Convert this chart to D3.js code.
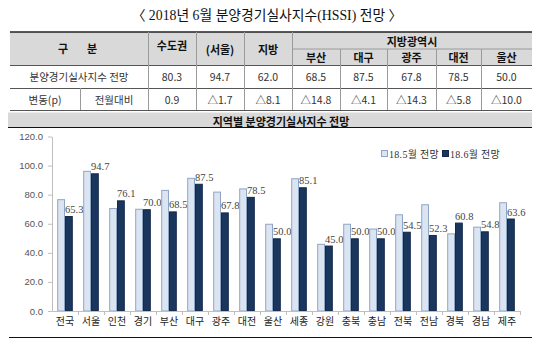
<!DOCTYPE html>
<html><head><meta charset="utf-8">
<script src="https://cdn.jsdelivr.net/npm/d3@7/dist/d3.min.js"></script>
<style>
html,body{margin:0;padding:0;background:#fff;}
svg{display:block;}
</style></head>
<body>
<svg id="c" width="540" height="344"></svg>
<script>
// ---------- data ----------
const title = "〈 2018년 6월 분양경기실사지수(HSSI) 전망 〉";
const chartTitle = "지역별 분양경기실사지수 전망";
const tableCols = ["수도권", "(서울)", "지방"];
const metroCols = ["부산", "대구", "광주", "대전", "울산"];
const tableForecast = ["80.3", "94.7", "62.0", "68.5", "87.5", "67.8", "78.5", "50.0"];
const tableChange = ["0.9", "△1.7", "△8.1", "△14.8", "△4.1", "△14.3", "△5.8", "△10.0"];
const categories = ["전국","서울","인천","경기","부산","대구","광주","대전","울산","세종","강원","충북","충남","전북","전남","경북","경남","제주"];
const seriesNames = ["18.5월 전망", "18.6월 전망"];
const may = [76.9, 96.4, 70.8, 70.3, 83.3, 91.6, 82.1, 84.3, 60.0, 91.3, 46.2, 60.0, 56.7, 66.5, 73.4, 53.4, 58.0, 74.8];
const june = [65.3, 94.7, 76.1, 70.0, 68.5, 87.5, 67.8, 78.5, 50.0, 85.1, 45.0, 50.0, 50.0, 54.5, 52.3, 60.8, 54.8, 63.6];
const yTicks = [0, 20, 40, 60, 80, 100, 120];

// ---------- drawing ----------
const svg = d3.select("#c");
const sans = "'Noto Sans CJK KR','Noto Sans',sans-serif";
const serif = "'Liberation Serif','Noto Sans CJK KR',serif";

// title
svg.append("text").attr("x", 267).attr("y", 20).attr("text-anchor", "middle")
  .attr("font-family", serif).attr("font-size", 13.8).attr("fill", "#111").text(title);

// table
const L = 10, R = 532;
const colX = [10, 148, 196, 244, 292, 340, 387, 436, 481, 532];
const rowY = [32, 49, 65, 88, 110];
const g = svg.append("g");
g.append("rect").attr("x", L).attr("y", rowY[0]).attr("width", R - L).attr("height", rowY[2] - rowY[0]).attr("fill", "#d9d9d9");
const lineC = "#9a9a9a";
g.append("line").attr("x1", L).attr("x2", R).attr("y1", rowY[0]).attr("y2", rowY[0]).attr("stroke", "#222").attr("stroke-width", 1.5);
g.append("line").attr("x1", colX[4]).attr("x2", R).attr("y1", rowY[1]).attr("y2", rowY[1]).attr("stroke", lineC);
[rowY[2], rowY[3]].forEach(yy => g.append("line").attr("x1", L).attr("x2", R).attr("y1", yy + .5).attr("y2", yy + .5).attr("stroke", "#555"));
g.append("line").attr("x1", L).attr("x2", R).attr("y1", rowY[4] + .5).attr("y2", rowY[4] + .5).attr("stroke", "#555");
colX.slice(1, 9).forEach((x, i) => {
  const top = (i >= 4) ? rowY[1] : rowY[0];
  g.append("line").attr("x1", x + .5).attr("x2", x + .5).attr("y1", top).attr("y2", rowY[4]).attr("stroke", lineC);
});
g.append("line").attr("x1", 80.5).attr("x2", 80.5).attr("y1", rowY[3]).attr("y2", rowY[4]).attr("stroke", lineC);

function cell(x, y, t, bold, size) {
  g.append("text").attr("x", x).attr("y", y).attr("text-anchor", "middle").attr("dominant-baseline", "central")
    .attr("font-family", sans).attr("font-size", size || 10.5).attr("font-weight", bold ? "bold" : "normal")
    .attr("fill", bold ? "#111" : "#333").text(t);
}
cell(63, 48, "구", true, 11);
cell(92, 48, "분", true, 11);
tableCols.forEach((t, i) => cell((colX[i + 1] + colX[i + 2]) / 2, i === 0 ? 45 : 49, t, true, 11));
cell((colX[4] + R) / 2, 40.5, "지방광역시", true, 11);
metroCols.forEach((t, i) => cell((colX[i + 4] + colX[i + 5]) / 2, 57, t, true, 11));
cell(79, 76.5, "분양경기실사지수 전망", false, 10.5);
tableForecast.forEach((t, i) => cell((colX[i + 1] + colX[i + 2]) / 2, 76.5, t, false, 10.5));
cell(45, 99, "변동(p)", false, 10.5);
cell(114, 99, "전월대비", false, 10.5);
tableChange.forEach((t, i) => cell((colX[i + 1] + colX[i + 2]) / 2, 99, t, false, 10.5));

// chart title band
svg.append("rect").attr("x", 8).attr("y", 112.5).attr("width", 524).attr("height", 14.5).attr("fill", "#d9d9d9");
svg.append("line").attr("x1", 8).attr("x2", 532).attr("y1", 127.5).attr("y2", 127.5).attr("stroke", "#111").attr("stroke-width", 1.2);
svg.append("text").attr("x", 281).attr("y", 120.5).attr("text-anchor", "middle").attr("dominant-baseline", "central")
  .attr("font-family", sans).attr("font-size", 11).attr("font-weight", "bold").attr("fill", "#111").text(chartTitle);

// chart
const x0 = d3.scaleBand().domain(categories).range([52, 520]).paddingInner(0.4).paddingOuter(0.2);
const x1 = d3.scaleBand().domain(seriesNames).range([0, x0.bandwidth()]);
const y = d3.scaleLinear().domain([0, 120]).range([311, 136.5]);

const yAxis = svg.append("g").attr("transform", "translate(52,0)")
  .call(d3.axisLeft(y).tickValues(yTicks).tickFormat(d3.format(".1f")).tickSize(4).tickSizeOuter(0));
yAxis.select(".domain").attr("stroke", "#bfbfbf");
yAxis.selectAll(".tick line").attr("stroke", "#bfbfbf");
yAxis.selectAll("text").attr("font-family", "'Liberation Sans','Noto Sans',sans-serif").attr("font-size", 9.5).attr("fill", "#555").attr("x", -9);

const colors = ["#dbe5f1", "#1b365d"];
const strokes = ["#8fa5c4", "#14294a"];
const seriesVals = [may, june];
categories.forEach((c, i) => {
  seriesNames.forEach((s, k) => {
    const v = seriesVals[k][i];
    svg.append("rect").attr("x", x0(c) + x1(s) + 0.5).attr("y", y(v) + 0.5)
      .attr("width", x1.bandwidth() - 1).attr("height", y(0) - y(v) - 0.5)
      .attr("fill", colors[k]).attr("stroke", strokes[k]).attr("stroke-width", 1);
  });
  svg.append("text").attr("x", x0(c) + x1(seriesNames[1])).attr("y", y(june[i]) - 3)
    .attr("font-family", serif).attr("font-size", 10.5).attr("fill", "#444").text(june[i].toFixed(1));
});

const xAxis = svg.append("g").attr("transform", "translate(0,311)")
  .call(d3.axisBottom(x0).tickSize(0).tickSizeOuter(0));
xAxis.select(".domain").attr("stroke", "#bfbfbf");
xAxis.selectAll("text").attr("font-family", sans).attr("font-size", 10).attr("fill", "#222").attr("dy", "1.1em");
svg.append("g").selectAll("line").data(categories.slice(1).concat(["_end"])).join("line")
  .attr("x1", (d, i) => 52 + x0.step() * (i + 1) + .5).attr("x2", (d, i) => 52 + x0.step() * (i + 1) + .5)
  .attr("y1", 311).attr("y2", 315).attr("stroke", "#bfbfbf");

// legend
const lg = svg.append("g").attr("transform", "translate(381,154)");
let lx = 0;
seriesNames.forEach((s, k) => {
  lg.append("rect").attr("x", lx + 0.5).attr("y", -3.5).attr("width", 6).attr("height", 6)
    .attr("fill", colors[k]).attr("stroke", strokes[k]);
  lg.append("text").attr("x", lx + 8).attr("y", 0).attr("dominant-baseline", "central")
    .attr("font-family", serif).attr("font-size", 10).attr("letter-spacing", 0.3).attr("fill", "#333").text(s);
  lx += 61;
});

// bottom rule
svg.append("line").attr("x1", 9).attr("x2", 532).attr("y1", 337.5).attr("y2", 337.5).attr("stroke", "#111").attr("stroke-width", 1.2);
</script>
</body></html>
